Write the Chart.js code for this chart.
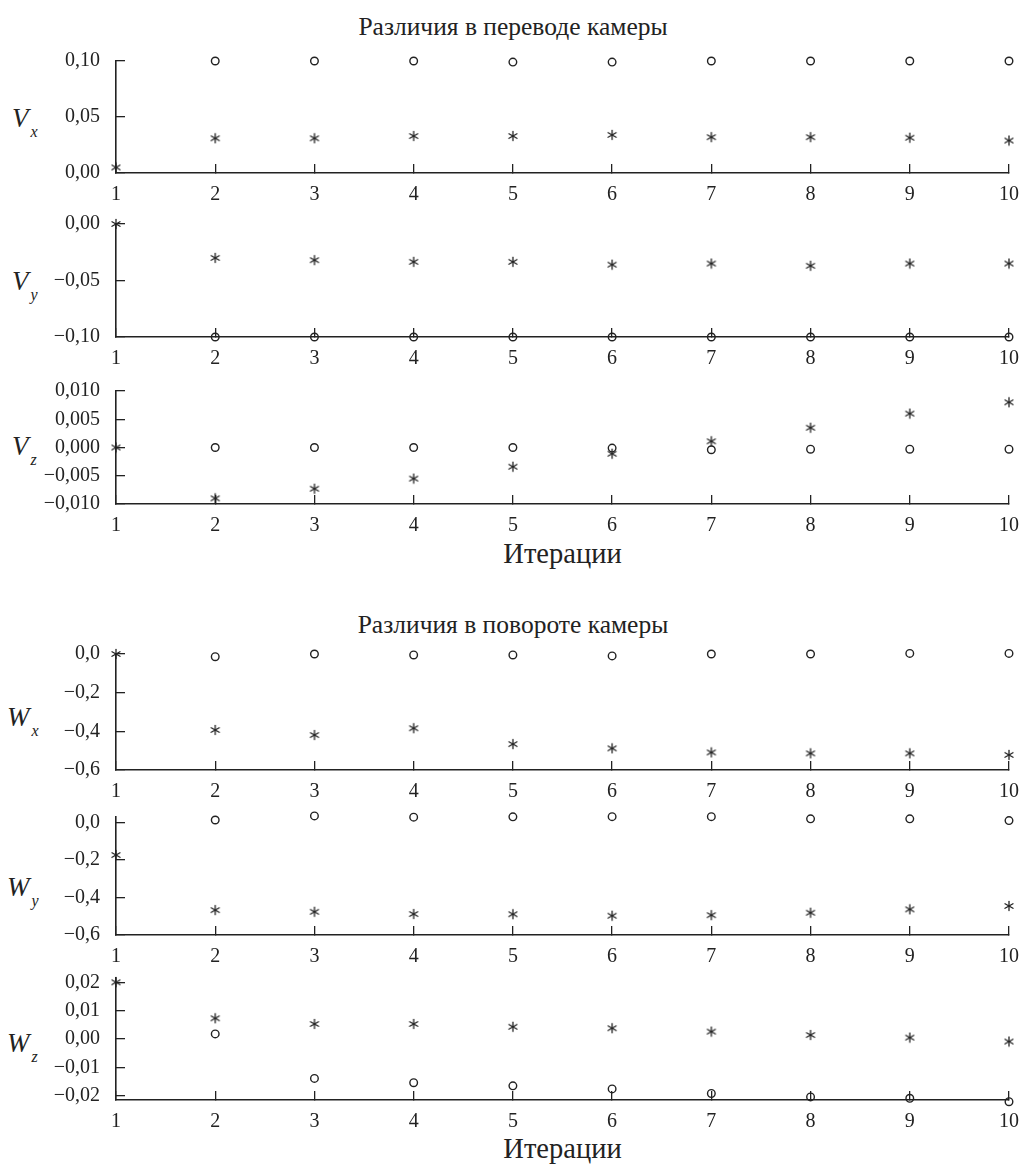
<!DOCTYPE html>
<html>
<head>
<meta charset="utf-8">
<script src="https://cdn.jsdelivr.net/npm/chart.js@4.4.1/dist/chart.umd.min.js"></script>
<style>
  body { margin: 0; background: #fff; width: 1026px; height: 1166px; position: relative; overflow: hidden;
         font-family: "Liberation Serif", "DejaVu Serif", serif; color: #222; }
  canvas { position: absolute; left: 0; }
  .ttl { position: absolute; left: 0; width: 1026px; text-align: center; font-size: 25.5px; line-height: 1; }
  .xt { position: absolute; left: 116px; width: 893px; text-align: center; font-size: 28.5px; line-height: 1; }
  .yl { position: absolute; font-style: italic; font-size: 27px; line-height: 1; white-space: nowrap; }
  .yl span { font-size: 16px; position: relative; top: 10px; margin-left: 2px; }
</style>
</head>
<body>
<div class="ttl" style="top:14px">Различия в переводе камеры</div>
<div class="ttl" style="top:612px">Различия в повороте камеры</div>
<div class="xt" style="top:540px">Итерации</div>
<div class="xt" style="top:1135px">Итерации</div>

<div class="yl" style="left:12px;top:105px">V<span>x</span></div>
<div class="yl" style="left:12px;top:268px">V<span>y</span></div>
<div class="yl" style="left:12px;top:433px">V<span>z</span></div>
<div class="yl" style="left:7px;top:704px">W<span>x</span></div>
<div class="yl" style="left:7px;top:874px">W<span>y</span></div>
<div class="yl" style="left:7px;top:1030px">W<span>z</span></div>

<canvas id="p1"></canvas>
<canvas id="p2"></canvas>
<canvas id="p3"></canvas>
<canvas id="p4"></canvas>
<canvas id="p5"></canvas>
<canvas id="p6"></canvas>

<script>
const iterations = [1, 2, 3, 4, 5, 6, 7, 8, 9, 10];

// translation differences
const vxCircle = [null, 0.100, 0.100, 0.100, 0.099, 0.099, 0.100, 0.100, 0.100, 0.100];
const vxStar = [0.005, 0.031, 0.031, 0.033, 0.033, 0.034, 0.032, 0.032, 0.0315, 0.029];
const vyCircle = [null, -0.100, -0.100, -0.100, -0.100, -0.100, -0.100, -0.100, -0.100, -0.100];
const vyStar = [0.000, -0.030, -0.032, -0.0335, -0.0335, -0.036, -0.035, -0.037, -0.035, -0.035];
const vzCircle = [null, 0.0000, 0.0000, 0.0000, 0.0000, -0.0001, -0.0004, -0.0003, -0.0003, -0.0003];
const vzStar = [0.0000, -0.0090, -0.0073, -0.0055, -0.0034, -0.0011, 0.0011, 0.0035, 0.0060, 0.0080];

// rotation differences
const wxCircle = [null, -0.014, 0.000, -0.005, -0.005, -0.010, 0.000, 0.000, 0.003, 0.003];
const wxStar = [0.000, -0.393, -0.419, -0.384, -0.466, -0.488, -0.509, -0.514, -0.514, -0.522];
const wyCircle = [null, 0.014, 0.036, 0.029, 0.031, 0.032, 0.032, 0.020, 0.020, 0.011];
const wyStar = [-0.173, -0.467, -0.476, -0.488, -0.489, -0.497, -0.494, -0.481, -0.463, -0.445];
const wzCircle = [null, 0.0018, -0.0139, -0.0154, -0.0165, -0.0176, -0.0192, -0.0204, -0.0209, -0.0221];
const wzStar = [0.0200, 0.0073, 0.0053, 0.0053, 0.0043, 0.0038, 0.0026, 0.0014, 0.0005, -0.0009];

// tick values of y axes
const vxTicks = [0, 0.05, 0.10];
const vyTicks = [-0.10, -0.05, 0];
const vzTicks = [-0.010, -0.005, 0, 0.005, 0.010];
const wxTicks = [-0.6, -0.4, -0.2, 0];
const wyTicks = [-0.6, -0.4, -0.2, 0];
const wzTicks = [-0.02, -0.01, 0, 0.01, 0.02];

Chart.defaults.font.family = '"Liberation Serif", "DejaVu Serif", serif';
Chart.defaults.font.size = 20;
Chart.defaults.color = "#222";

// 6-spoke asterisk marker
const star = document.createElement("canvas");
star.width = 12;
star.height = 12;
{
  const c = star.getContext("2d");
  c.strokeStyle = "#222";
  c.lineWidth = 1.3;
  c.lineCap = "round";
  for (const a of [90, 30, 150]) {
    const r = a * Math.PI / 180;
    c.beginPath();
    c.moveTo(6 - 4.6 * Math.cos(r), 6 - 4.6 * Math.sin(r));
    c.lineTo(6 + 4.6 * Math.cos(r), 6 + 4.6 * Math.sin(r));
    c.stroke();
  }
}

function fmt(v, d) {
  const s = Math.abs(v).toFixed(d).replace(".", ",");
  return v < -1e-9 ? "\u2212" + s : s;
}

function noPad(s) {
  s.paddingLeft = s.paddingRight = s.paddingTop = s.paddingBottom = 0;
}

function panel(id, top, bottom, circles, stars, ticks, min, max, dec) {
  const el = document.getElementById(id);
  const padTop = 16, xh = 40;
  el.width = 1026;
  el.height = Math.round(bottom - top) + padTop + xh;
  el.style.top = (top - padTop) + "px";
  new Chart(el, {
    type: "scatter",
    data: {
      datasets: [
        {
          data: iterations.map((x, i) => ({ x: x, y: circles[i] })),
          pointStyle: "circle",
          pointRadius: 3.8,
          borderColor: "#222",
          borderWidth: 1.4,
          backgroundColor: "rgba(0,0,0,0)",
          clip: false,
        },
        {
          data: iterations.map((x, i) => ({ x: x, y: stars[i] })),
          pointStyle: star,
          pointRadius: 5,
          clip: false,
        },
      ],
    },
    options: {
      responsive: false,
      animation: false,
      events: [],
      layout: { padding: { top: padTop, right: 17, left: 0, bottom: 0 } },
      plugins: { legend: { display: false }, tooltip: { enabled: false } },
      scales: {
        x: {
          type: "linear",
          min: 1,
          max: 10,
          afterBuildTicks: (s) => { s.ticks = iterations.map((v) => ({ value: v })); },
          afterFit: (s) => { s.height = xh; noPad(s); },
          grid: { drawOnChartArea: false, tickLength: -9, color: "#222", lineWidth: 1.3 },
          border: { color: "#222", width: 1.6 },
          ticks: { padding: 19, autoSkip: false, maxRotation: 0, callback: (v) => String(v) },
        },
        y: {
          min: min,
          max: max,
          afterBuildTicks: (s) => { s.ticks = ticks.map((v) => ({ value: v })); },
          afterFit: (s) => { s.width = 116; noPad(s); },
          grid: { drawOnChartArea: false, tickLength: -9, color: "#222", lineWidth: 1.3 },
          border: { color: "#222", width: 1.6 },
          ticks: { padding: 25, autoSkip: false, callback: (v) => fmt(v, dec) },
        },
      },
    },
  });
}

panel("p1", 60.7, 172.3, vxCircle, vxStar, vxTicks, 0, 0.10, 2);
panel("p2", 224.3, 337.7, vyCircle, vyStar, vyTicks, -0.10, 0, 2);
panel("p3", 390.7, 503.3, vzCircle, vzStar, vzTicks, -0.010, 0.010, 3);
panel("p4", 654, 770, wxCircle, wxStar, wxTicks, -0.6, 0, 1);
panel("p5", 817.3, 935, wyCircle, wyStar, wyTicks, -0.6, 0.03, 1);
panel("p6", 978, 1100, wzCircle, wzStar, wzTicks, -0.0215, 0.0215, 2);
</script>
</body>
</html>
